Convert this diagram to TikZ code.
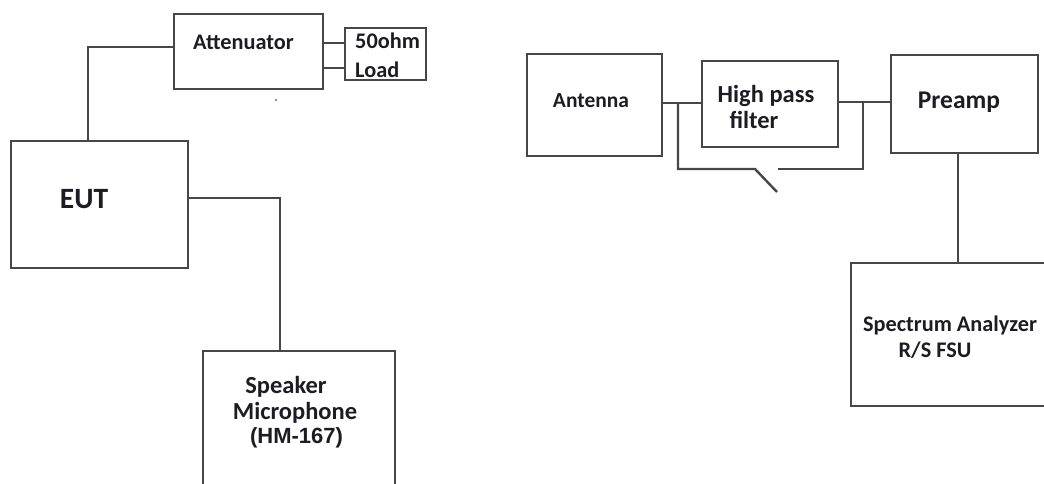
\documentclass[tikz,border=0pt]{standalone}
\usepackage{fontspec}
\setmainfont{Carlito}
\newfontfamily\arialfont{Liberation Sans}
\usepackage{tikz}
\usepackage{xcolor}
\usetikzlibrary{positioning}
\definecolor{wire}{HTML}{474747}
\definecolor{ink}{HTML}{1C1C24}

\begin{document}
\begin{tikzpicture}[x=1pt, y=-1pt, font=\fontsize{22.3}{26}\selectfont\bfseries,
  box/.style={draw=wire, line width=2.4pt, inner sep=0pt},
  lbl/.style={text=ink, anchor=base, inner sep=0pt},
  wireline/.style={draw=wire, line width=2.4pt}]
\clip (0,0) rectangle (1044,483);
% measurement set-up
\node[box, minimum width=149pt, minimum height=75pt] (att) at (248.5,51.5) {};
\node[box, minimum width=81pt, minimum height=52pt] (load) at (385.5,54) {};
\node[box, minimum width=177pt, minimum height=127pt] (eut) at (99.5,204.5) {};
\node[box, minimum width=192pt, minimum height=170pt] (spk) at (299,436) {};
\node[lbl] (atttxt) at (243.5,49) {Attenuator};
\node[lbl, anchor=base west] (loadtxt1) at (355,48) {50ohm};
\node[lbl, anchor=base west] (loadtxt2) at (355,77) {Load};
\node[lbl, font=\fontsize{29.5}{33}\selectfont\bfseries] (euttxt) at (84,208) {EUT};
\node[lbl, font=\fontsize{24.5}{28}\selectfont\bfseries] (spktxt1) at (286,393) {Speaker};
\node[lbl, font=\fontsize{24.5}{28}\selectfont\bfseries] (spktxt2) at (295,419) {Microphone};
\node[lbl, font=\fontsize{22}{26}\selectfont\arialfont\bfseries] (spktxt3) at (296.5,443) {(HM-167)};
\draw[wireline] ([yshift=4.5pt]att.west) -| ([xshift=-11.5pt]eut.north);
\draw[wireline] ([yshift=8.5pt]att.east) -- ([yshift=8.5pt]att.east -| load.west);
\draw[wireline] ([yshift=-16.5pt]att.east) -- ([yshift=-16.5pt]att.east -| load.west);
\draw[wireline] ([yshift=6.5pt]eut.east) -| ([xshift=-19pt]spk.north);
\fill[black!45] (276,100) circle (1.3pt);

% receiving chain
\node[box, minimum width=135pt, minimum height=102pt] (ant) at (594.5,105) {};
\node[box, minimum width=136pt, minimum height=86pt] (hpf) at (770,104) {};
\node[box, minimum width=147pt, minimum height=98pt] (pre) at (964.5,104) {};
\node[box, minimum width=209pt, minimum height=143pt] (sa) at (955.5,334.5) {};
\node[lbl, font=\fontsize{21.5}{25}\selectfont\bfseries] (anttxt) at (591,107) {Antenna};
\node[lbl, font=\fontsize{24.5}{28}\selectfont\bfseries] (hpftxt1) at (766,102) {High pass};
\node[lbl, font=\fontsize{24.5}{28}\selectfont\bfseries] (hpftxt2) at (754,128) {filter};
\node[lbl, font=\fontsize{25.5}{29}\selectfont\bfseries] (pretxt) at (959,108) {Preamp};
\node[lbl] (satxt1) at (950,331) {Spectrum Analyzer};
\node[lbl] (satxt2) at (935,357) {R/S FSU};
\coordinate (j1) at (678,103);
\coordinate (j2) at (863,102);
\coordinate (sw1) at (755,169);
\coordinate (sw2) at (778,169);
\draw[wireline] (ant.east |- j1) -- (hpf.west |- j1);
\draw[wireline] (hpf.east |- j2) -- (pre.west |- j2);
\draw[wireline] (j1) |- (sw1) -- (777,192);
\draw[wireline] (sw2) -| (j2);
\draw[wireline] ([xshift=-6.5pt]pre.south) -- ([xshift=-6.5pt]pre.south |- sa.north);
\end{tikzpicture}
\end{document}
